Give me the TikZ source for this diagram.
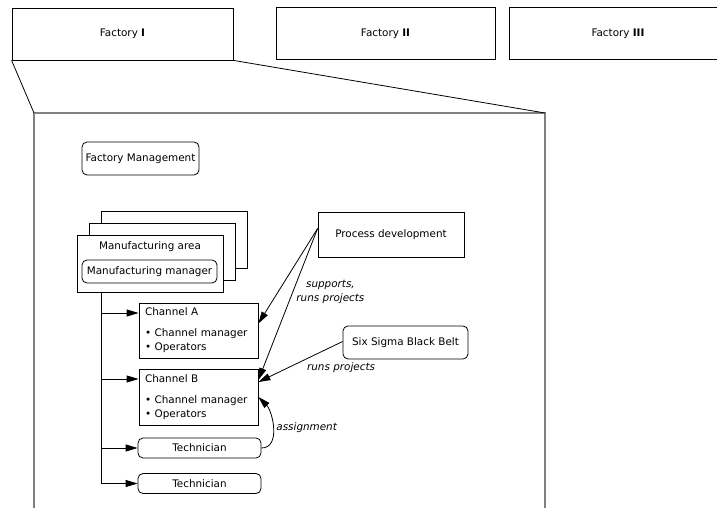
\documentclass[tikz,border=0pt]{standalone}
\usepackage{fontspec}
\setmainfont{DejaVu Sans}
\usetikzlibrary{arrows.meta}

\begin{document}
\begin{tikzpicture}[
    x = 1pt,
    y = -1pt,
    line width = 0.8pt,
    font = \fontsize{10.4}{12}\selectfont,
    > = {Triangle[length = 12pt, width = 7pt]},
    box/.style = {draw,
      fill = white,
      inner sep = 0pt},
    factory/.style = {box,
      minimum height = {52pt}},
    unit/.style = {box,
      rounded corners = 5pt},
    stack/.style = {minimum width = {146pt},
      minimum height = {57pt}},
    channel/.style = {box,
      align = left,
      text width = {107pt},
      inner xsep = 6pt,
      minimum height = {56pt},
      font = \fontsize{10.4}{14}\selectfont},
    frame/.style = {gray, line width = 1.6pt},
    remark/.style = {font = \fontsize{10.4}{14}\selectfont\itshape},
    ]

    \useasboundingbox (0, 0) rectangle (717, 508);

    \coordinate (frame_nw) at (34, 113);
    \coordinate (frame_ne) at (545, 113);
    \draw [frame] (34, 520) -- (frame_nw) -- (frame_ne) -- (545, 520);

    \node at (122.5, 34)
    [factory, minimum width = {221pt}, name = F_I] {Factory \textbf{I}};
    \node at (385.5, 33.5)
    [factory, minimum width = {219pt}, name = F_II] {Factory \textbf{II}};
    \node at (618, 33.5)
    [factory, minimum width = {218pt}, name = F_III] {Factory \textbf{III}};

    \draw (F_I.south west) -- (frame_nw);
    \draw (F_I.south east) -- (frame_ne);

    \node at (140.5, 158.5)
    [unit, minimum width = {117pt}, minimum height = {33pt}, name = FM]
    {Factory Management};

    \node at (174, 239.5) [box, stack, name = MA_3] {};
    \node at (162, 251.5) [box, stack, name = MA_2] {};
    \node at (150, 263.5) [box, stack, name = MA] {};
    \node at (150, 247) [name = MA_title] {Manufacturing area};
    \node at (149.5, 271.5)
    [unit, minimum width = {135pt}, minimum height = {23pt}, name = MM]
    {Manufacturing manager};

    \node at (198.5, 330.5)
    [channel, minimum height = {55pt}, name = ChA]
    {Channel A\\[7pt]\textbullet{} Channel manager\\\textbullet{} Operators};
    \node at (198.5, 397)
    [channel, name = ChB]
    {Channel B\\[7pt]\textbullet{} Channel manager\\\textbullet{} Operators};

    \node at (199.5, 448)
    [unit, minimum width = {123pt}, minimum height = {20pt}, name = T_1]
    {Technician};
    \node at (199.5, 483.5)
    [unit, minimum width = {123pt}, minimum height = {20pt}, name = T_2]
    {Technician};

    \node at (391, 234.5)
    [box, minimum width = {146pt}, minimum height = {45pt}, name = PD]
    {Process development};
    \node at (405.5, 342.5)
    [unit, minimum width = {125pt}, minimum height = {33pt}, name = SS]
    {Six Sigma Black Belt};

    \coordinate (trunk) at ([xshift = 25pt]MA.south west);
    \draw [->] (trunk) |- ([yshift = 17.5pt]ChA.west);
    \draw [->] (trunk) |- ([yshift = 18pt]ChB.west);
    \draw [->] (trunk) |- (T_1.west);
    \draw [->] (trunk) |- (T_2.west);

    \draw [->] ([yshift = 6pt]PD.west) to ([yshift = 7pt]ChA.east);
    \draw [->] ([yshift = 6pt]PD.west) to node
    [remark, right, align = center, pos = 0.42]
    {supports,\\runs projects} ([yshift = 17pt]ChB.east);

    \draw [->] ([yshift = 1pt]SS.west) to node
    [remark, below right, pos = 0.45, inner sep = 2pt]
    {runs projects} ([yshift = 15pt]ChB.east);

    \draw [->] (T_1.east) to [out = 0, in = -45] node
    [remark, right, pos = 0.5]
    {assignment} (ChB.east);
  \end{tikzpicture}
\end{document}
